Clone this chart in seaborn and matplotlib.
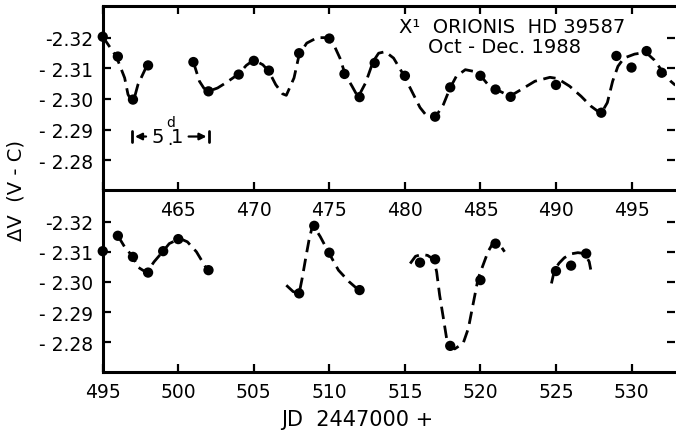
import matplotlib
matplotlib.use('Agg')
import matplotlib.pyplot as plt
import seaborn as sns
import pandas as pd

sns.set_style('ticks')
plt.rcParams['font.family'] = ['DejaVu Sans']
plt.rcParams['text.color'] = 'black'
plt.rcParams['axes.edgecolor'] = 'black'
plt.rc('xtick', labelsize=13.5)
plt.rc('ytick', labelsize=13.5)

# observed points, top run (JD 2447460-497)
top_day = [460, 461, 462, 463, 466, 467, 469, 470, 471, 473, 475, 476, 477, 478,
           480, 482, 483, 485, 486, 487, 490, 493, 494, 495, 496, 497]
top_dv = [-2.3204, -2.3139, -2.2998, -2.3110, -2.3121, -2.3025, -2.3080, -2.3125,
          -2.3093, -2.3150, -2.3198, -2.3082, -2.3006, -2.3118, -2.3076, -2.2942,
          -2.3038, -2.3076, -2.3031, -2.3007, -2.3046, -2.2955, -2.3141, -2.3103,
          -2.3157, -2.3086]

# observed points, bottom run (JD 2447495-527)
bot_day = [495, 496, 497, 498, 499, 500, 502, 508, 509, 510, 512, 516, 517, 518,
           520, 521, 525, 526, 527]
bot_dv = [-2.3102, -2.3153, -2.3083, -2.3031, -2.3102, -2.3142, -2.3039, -2.2962,
          -2.3186, -2.3097, -2.2973, -2.3064, -2.3075, -2.2788, -2.3006, -2.3127,
          -2.3036, -2.3054, -2.3094]

# dashed fit curves, one list per piece
top_fit = [
    ([460.0, 460.9, 461.45, 461.67, 461.9, 462.1, 462.33, 462.9, 463.0],
     [-2.3204, -2.3139, -2.3069, -2.3015, -2.2995, -2.3005, -2.3047, -2.3107, -2.3110]),
    ([466.0, 466.4, 466.7, 467.05, 467.6, 468.15, 469.0, 469.5, 470.0, 470.6, 471.0,
      471.45, 471.9, 472.15, 472.66, 473.0, 473.5, 474.2, 474.75, 475.3, 475.7,
      476.05, 476.5, 476.9, 477.4, 477.9, 478.26, 478.7, 479.25, 479.9, 480.45,
      481.0, 481.45, 482.0, 482.55, 483.0, 483.4, 484.0, 484.6, 485.0, 485.5,
      486.06, 486.95, 487.7, 488.6, 489.6, 490.1, 490.9, 491.66, 492.3, 492.98,
      493.4, 493.75, 494.1, 494.5, 495.2, 495.95, 496.5, 497.05, 497.6, 497.9],
     [-2.3121, -2.3058, -2.3035, -2.3026, -2.3036, -2.3053, -2.3082, -2.3110, -2.3128,
      -2.3112, -2.3090, -2.3047, -2.3017, -2.3012, -2.3069, -2.3145, -2.3183, -2.3201,
      -2.3201, -2.3177, -2.3134, -2.3080, -2.3042, -2.3006, -2.3053, -2.3123, -2.3150,
      -2.3155, -2.3134, -2.3080, -2.3026, -2.2972, -2.2944, -2.2939, -2.2982, -2.3037,
      -2.3074, -2.3096, -2.3090, -2.3077, -2.3047, -2.3031, -2.3009, -2.3031, -2.3058,
      -2.3071, -2.3067, -2.3042, -2.3009, -2.2977, -2.2952, -2.2988, -2.3058, -2.3107,
      -2.3134, -2.3147, -2.3153, -2.3128, -2.3090, -2.3058, -2.3045]),
]

bot_fit = [
    ([496.0, 496.45, 497.0, 497.3, 497.9, 498.4, 499.0, 499.4, 500.1, 500.6, 501.2, 501.8],
     [-2.3153, -2.3116, -2.3083, -2.3050, -2.3031, -2.3067, -2.3102, -2.3127, -2.3144,
      -2.3133, -2.3100, -2.3050]),
    ([507.15, 507.6, 508.0, 508.2, 508.43, 508.65, 508.9, 509.4, 509.96, 510.6, 511.3, 511.94],
     [-2.2989, -2.2968, -2.2962, -2.3012, -2.3078, -2.3138, -2.3190, -2.3150, -2.3097,
      -2.3039, -2.3001, -2.2973]),
    ([515.35, 515.7, 516.1, 516.5, 516.9, 517.1, 517.3, 517.55, 517.76, 517.98, 518.3,
      518.86, 519.2, 519.5, 519.85, 520.5, 520.84, 521.3, 521.6],
     [-2.3061, -2.3085, -2.3091, -2.3088, -2.3075, -2.3034, -2.2956, -2.2879, -2.2813,
      -2.2786, -2.2778, -2.2797, -2.2846, -2.2923, -2.3012, -2.3100, -2.3130, -2.3122,
      -2.3100]),
    ([524.7, 524.9, 525.2, 525.55, 526.0, 526.45, 526.9, 527.2, 527.3],
     [-2.2995, -2.3039, -2.3062, -2.3080, -2.3093, -2.3097, -2.3094, -2.3067, -2.3041]),
]

y_ticks = [-2.32, -2.31, -2.30, -2.29, -2.28]
y_labels = ['-2.32', '- 2.31', '- 2.30', '- 2.29', '- 2.28']
top_xticks = [460, 465, 470, 475, 480, 485, 490, 495]
bot_xticks = [495, 500, 505, 510, 515, 520, 525, 530]

fig = plt.figure(figsize=(6.76, 4.31), dpi=100)
ax2 = fig.add_axes([0.152, 0.135, 0.847, 0.422])
ax1 = fig.add_axes([0.152, 0.557, 0.847, 0.427])
ax2.patch.set_visible(False)
ax1.patch.set_visible(False)


def draw(ax, fits, days, dvs):
    for xs, ys in fits:
        sns.lineplot(x=xs, y=ys, ax=ax, color='black', lw=2.0, sort=False,
                     dashes=False, estimator=None)
        ax.lines[-1].set_dashes([4.5, 2.4])
    pts = pd.DataFrame({'day': days, 'dv': dvs})
    sns.scatterplot(data=pts, x='day', y='dv', ax=ax, color='black', s=55,
                    edgecolor='none', zorder=5, clip_on=False)
    ax.set_ylim(-2.2702, -2.3305)
    ax.set_yticks(y_ticks)
    ax.set_yticklabels(y_labels)
    ax.set_xlabel('')
    ax.set_ylabel('')
    ax.spines['right'].set_visible(False)
    for s in ['left', 'top', 'bottom']:
        ax.spines[s].set_linewidth(2.2)
    ax.tick_params(direction='in', length=6, width=1.6, colors='black')
    ax.tick_params(axis='y', right=True, pad=7)
    ax.tick_params(axis='x', pad=7)


draw(ax1, top_fit, top_day, top_dv)
draw(ax2, bot_fit, bot_day, bot_dv)

ax1.set_xlim(460, 497.9)
ax1.set_xticks(top_xticks)
ax1.set_xticklabels([''] + [str(t) for t in top_xticks[1:]])
ax1.tick_params(axis='x', top=True)

ax2.set_xlim(495, 532.9)
ax2.set_xticks(bot_xticks)
ax2.set_xticklabels([str(t) for t in bot_xticks])
ax2.spines['top'].set_visible(False)

# period marker |<- 5.1d ->|
ax1.plot([461.95, 461.95], [-2.2860, -2.2894], color='black', lw=2)
ax1.plot([467.05, 467.05], [-2.2860, -2.2894], color='black', lw=2)
ax1.annotate('', xy=(461.95, -2.2877), xytext=(463.05, -2.2877),
             arrowprops=dict(arrowstyle='-|>', color='black', lw=1.6, mutation_scale=10))
ax1.annotate('', xy=(467.05, -2.2877), xytext=(465.5, -2.2877),
             arrowprops=dict(arrowstyle='-|>', color='black', lw=1.6, mutation_scale=10))
ax1.text(463.65, -2.2877, '5', ha='center', va='center', fontsize=14)
ax1.text(464.45, -2.2870, '.', ha='center', va='center', fontsize=12)
ax1.text(464.95, -2.2877, '1', ha='center', va='center', fontsize=14)
ax1.text(464.5, -2.2925, 'd', ha='center', va='center', fontsize=10)

ax1.text(487.1, -2.3236, 'X\u00b9  ORIONIS  HD 39587', ha='center', va='center', fontsize=14)
ax1.text(486.6, -2.3171, 'Oct - Dec. 1988', ha='center', va='center', fontsize=14)

fig.text(0.024, 0.557, '\u0394V  (V - C)', rotation=90, ha='center', va='center', fontsize=14)
fig.text(0.528, 0.025, 'JD  2447000 +', ha='center', va='center', fontsize=15)

fig.savefig('out.png', dpi=100)
